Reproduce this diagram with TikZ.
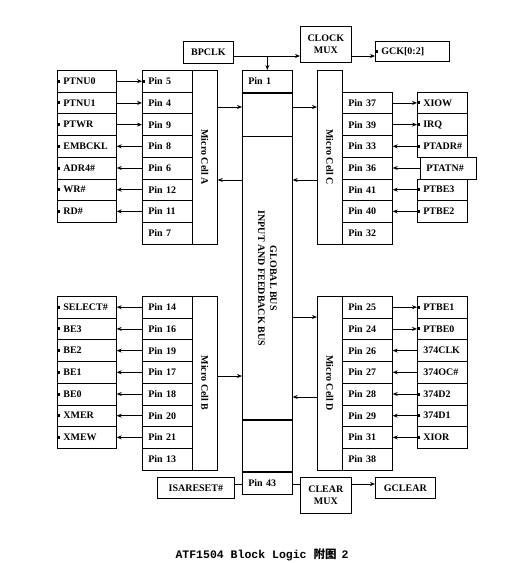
\documentclass[tikz,border=0pt]{standalone}
\usepackage{fontspec}
\setmainfont{Liberation Serif}
\newfontfamily\captfont{Liberation Mono}
\newfontfamily\cjk{Noto Sans CJK SC}
\usetikzlibrary{arrows.meta,positioning,calc}

\begin{document}
\begin{tikzpicture}[x=1pt, y=-1pt,
  box/.style={draw, line width=0.7pt, font=\bfseries, inner sep=0pt, align=center},
  cell/.style={box, minimum height=21.7pt, inner xsep=6pt, text width=38pt, align=left, anchor=north west},
  sigL/.style={cell, text width=47pt},
  mcol/.style={box, minimum width=25pt, minimum height=173.6pt, anchor=north west},
  buscell/.style={box, minimum width=50pt, inner xsep=6pt, text width=38pt, align=left},
  sig/.style={-{Stealth[length=5pt,width=4pt]}, line width=0.7pt},
  wire/.style={line width=0.7pt}
]
\useasboundingbox (0,0) rectangle (532,563);

% clock and bus
\node[box, minimum width=50pt, minimum height=22pt, anchor=north west] (bpclk) at (183,41) {BPCLK};
\node[box, minimum width=51pt, minimum height=36pt, anchor=north west] (clkmux) at (300,26) {CLOCK\\MUX};
\node[cell, text width=62pt, minimum height=20pt] (gck) at (375,41) {GCK[0:2]};
\node[buscell, minimum height=22pt, anchor=north west] (pin1) at (242,70) {Pin 1};
\node[buscell, minimum height=43pt, below=0pt of pin1] (busTop) {};
\node[buscell, minimum height=283pt, below=0pt of busTop] (bus) {};
\node[buscell, minimum height=51pt, below=0pt of bus] (busBot) {};
\node[buscell, minimum height=22pt, below=0pt of busBot] (pin43) {Pin 43};
\node[font=\bfseries, align=center, rotate=-90] (busname) at (bus) {GLOBAL BUS\\INPUT AND FEEDBACK BUS};

% micro cell A
\node[mcol, label={[rotate=-90, font=\bfseries]center:Micro Cell A}] (mcA) at (192,70) {};
\foreach \p [count=\i from 0] in {5,4,9,8,6,12,11,7}
  \node[cell] (pA\i) at (142,{70+21.7*\i}) {Pin \p};
\foreach \s [count=\i from 0] in {PTNU0,PTNU1,PTWR,EMBCKL,ADR4\#,WR\#,RD\#}
  \node[sigL] (sA\i) at (57,{70+21.7*\i}) {\s};
\foreach \i in {0,1,2} \draw[sig] (sA\i) -- (pA\i);
\foreach \i in {3,...,6} \draw[sig] (pA\i) -- (sA\i);

% micro cell B
\node[mcol, label={[rotate=-90, font=\bfseries]center:Micro Cell B}] (mcB) at (192,296) {};
\foreach \p [count=\i from 0] in {14,16,19,17,18,20,21,13}
  \node[cell] (pB\i) at (142,{296+21.7*\i}) {Pin \p};
\foreach \s [count=\i from 0] in {SELECT\#,BE3,BE2,BE1,BE0,XMER,XMEW}
  \node[sigL] (sB\i) at (57,{296+21.7*\i}) {\s};
\foreach \i in {0,...,6} \draw[sig] (pB\i) -- (sB\i);

% micro cell C
\node[mcol, label={[rotate=-90, font=\bfseries]center:Micro Cell C}] (mcC) at (317,70) {};
\foreach \p [count=\i from 0] in {37,39,33,36,41,40,32}
  \node[cell] (pC\i) at (342,{91.7+21.7*\i}) {Pin \p};
\foreach \s [count=\i from 0] in {XIOW,IRQ,PTADR\#}
  \node[cell] (sC\i) at (417,{91.7+21.7*\i}) {\s};
\node[cell, text width=44pt] (sC3) at (420,{91.7+21.7*3}) {PTATN\#};
\foreach \s [count=\i from 4] in {PTBE3,PTBE2}
  \node[cell] (sC\i) at (417,{91.7+21.7*\i}) {\s};
\foreach \i in {0,1} \draw[sig] (pC\i) -- (sC\i);
\foreach \i in {2,...,5} \draw[sig] (sC\i) -- (pC\i);

% micro cell D
\node[mcol, label={[rotate=-90, font=\bfseries]center:Micro Cell D}] (mcD) at (317,296) {};
\foreach \p [count=\i from 0] in {25,24,26,27,28,29,31,38}
  \node[cell] (pD\i) at (342,{296+21.7*\i}) {Pin \p};
\foreach \s [count=\i from 0] in {PTBE1,PTBE0,374CLK,374OC\#,374D2,374D1,XIOR}
  \node[cell] (sD\i) at (417,{296+21.7*\i}) {\s};
\foreach \i in {0,1} \draw[sig] (pD\i) -- (sD\i);
\foreach \i in {2,...,6} \draw[sig] (sD\i) -- (pD\i);

% clear
\node[box, minimum width=77pt, minimum height=21pt, anchor=north west] (isareset) at (157,477) {ISARESET\#};
\node[box, minimum width=51pt, minimum height=36pt, anchor=north west] (clrmux) at (300,477) {CLEAR\\MUX};
\node[box, minimum width=60pt, minimum height=21pt, anchor=north west] (gclear) at (375,477) {GCLEAR};

% bullets
\foreach \n in {pA0,sA0,sA1,sA2,sA3,sA4,sA5,sA6,sB0,sB1,sB2,sB3,sB4,sB5,sB6,sC0,sC1,sC2,sC4,sC5,sD0,sD1,sD4,sD5,sD6,gck}
  \fill ([xshift=1.5pt]\n.west) ++(-1.5pt,-1.5pt) rectangle ++(3pt,3pt);

% levels
\coordinate (lvClk) at (0,56);
\coordinate (lvA1) at (0,107);
\coordinate (lvA2) at (0,180);
\coordinate (lvD1) at (0,317);
\coordinate (lvB) at (0,376);
\coordinate (lvD2) at (0,397);
\coordinate (lvClr) at (0,484);

\draw[sig] (bpclk.east |- lvClk) -- (clkmux.west |- lvClk);
\draw[sig] (pin1.north |- lvClk) -- (pin1.north);
\draw[sig] (clkmux.east |- lvClk) -- (gck.west |- lvClk);
\draw[sig] (mcA.east |- lvA1) -- (busTop.west |- lvA1);
\draw[sig] (busTop.east |- lvA1) -- (mcC.west |- lvA1);
\draw[sig] (bus.west |- lvA2) -- (mcA.east |- lvA2);
\draw[sig] (mcC.west |- lvA2) -- (bus.east |- lvA2);
\draw[sig] (mcB.east |- lvB) -- (bus.west |- lvB);
\draw[sig] (bus.east |- lvD1) -- (mcD.west |- lvD1);
\draw[sig] (mcD.west |- lvD2) -- (bus.east |- lvD2);
\draw[wire] (isareset.east |- lvClr) -- (pin43.west |- lvClr);
\draw[wire] (pin43.east |- lvClr) -- (clrmux.west |- lvClr);
\draw[sig] (clrmux.east |- lvClr) -- (gclear.west |- lvClr);

\node[font=\bfseries\fontsize{11.5}{13}\selectfont] (capt) at (262,555) {\captfont ATF1504 Block Logic \cjk 附图\hspace{5pt}\captfont 2};
\end{tikzpicture}
\end{document}
